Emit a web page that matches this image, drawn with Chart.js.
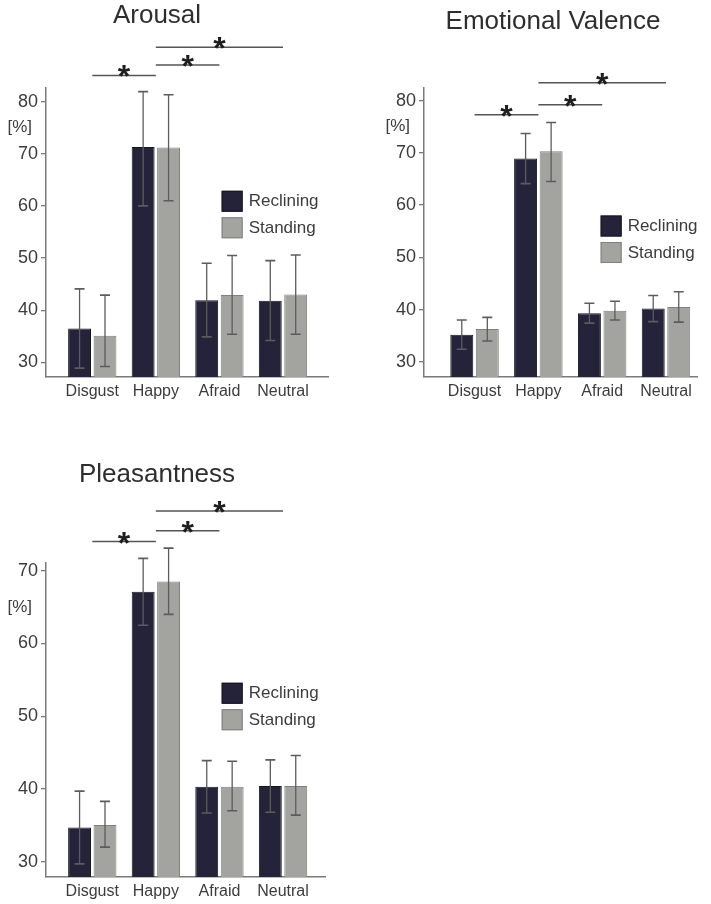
<!DOCTYPE html>
<html>
<head>
<meta charset="utf-8">
<script src="https://cdn.jsdelivr.net/npm/chart.js@4.4.1/dist/chart.umd.min.js"></script>
<style>
    html, body { margin: 0; padding: 0; background: #fff; }
    body { width: 711px; height: 904px; position: relative; overflow: hidden; }
    canvas { position: absolute; }
</style>
</head>
<body>
<canvas id="arousalChart"></canvas>
<canvas id="valenceChart"></canvas>
<canvas id="pleasantChart"></canvas>
<script>
// Shared labels
const categories = ['Disgust', 'Happy', 'Afraid', 'Neutral'];
const seriesNames = ['Reclining', 'Standing'];

// Arousal
const arousalTicks = [30, 40, 50, 60, 70, 80];
const arousalReclining = [36.5, 71.3, 41.9, 41.8];
const arousalReclHigh = [44.1, 81.9, 49.0, 49.5];
const arousalReclLow = [28.9, 60.0, 34.9, 34.2];
const arousalStanding = [35.1, 71.2, 42.9, 43.0];
const arousalStandHigh = [42.9, 81.3, 50.5, 50.6];
const arousalStandLow = [29.2, 61.0, 35.4, 35.4];
const arousalSig = [[0, 1, 85.0], [1, 2, 87.0], [1, 3, 90.4]];

// Emotional Valence
const valenceTicks = [30, 40, 50, 60, 70, 80];
const valenceReclining = [35.2, 68.9, 39.3, 40.2];
const valenceReclHigh = [38.0, 73.7, 41.2, 42.7];
const valenceReclLow = [32.4, 64.1, 37.4, 37.7];
const valenceStanding = [36.3, 70.3, 39.8, 40.5];
const valenceStandHigh = [38.5, 75.8, 41.6, 43.4];
const valenceStandLow = [34.0, 64.5, 38.0, 37.6];
const valenceSig = [[0, 1, 77.3], [1, 2, 79.2], [1, 3, 83.4]];

// Pleasantness
const pleasantTicks = [30, 40, 50, 60, 70];
const pleasantReclining = [34.7, 67.1, 40.3, 40.4];
const pleasantReclHigh = [39.7, 71.7, 43.9, 44.0];
const pleasantReclLow = [29.7, 62.5, 36.7, 36.8];
const pleasantStanding = [35.05, 68.5, 40.3, 40.4];
const pleasantStandHigh = [38.3, 73.1, 43.8, 44.6];
const pleasantStandLow = [32.0, 64.0, 37.0, 36.4];
const pleasantSig = [[0, 1, 74.0], [1, 2, 75.5], [1, 3, 78.2]];

const FONT = "'Liberation Sans', Arial, sans-serif";
const colors = {
    reclining: '#25233a',
    recliningEdge: '#16151f',
    standing: '#a3a4a0',
    standingEdge: '#7f807d',
    axis: '#7a7a7a',
    text: '#3c3c3c',
    whisker: '#5c5c5c'
};

// Draws title, [%] label, error bars, significance bars and the legend
const panelDecor = {
    id: 'panelDecor',
    afterDatasetsDraw(chart, args, opts) {
        const ctx = chart.ctx;
        const xs = chart.scales.x;
        const ys = chart.scales.y;

        // error bars
        ctx.save();
        ctx.strokeStyle = colors.whisker;
        chart.data.datasets.forEach((ds, di) => {
            chart.getDatasetMeta(di).data.forEach((bar, j) => {
                const top = ys.getPixelForValue(ds.errHigh[j]);
                const bot = ys.getPixelForValue(ds.errLow[j]);
                ctx.lineWidth = 1.3;
                ctx.beginPath();
                ctx.moveTo(bar.x, top);
                ctx.lineTo(bar.x, bot);
                ctx.stroke();
                ctx.lineWidth = 1.6;
                ctx.beginPath();
                ctx.moveTo(bar.x - 5, top);
                ctx.lineTo(bar.x + 5, top);
                ctx.moveTo(bar.x - 5, bot);
                ctx.lineTo(bar.x + 5, bot);
                ctx.stroke();
            });
        });
        ctx.restore();

        // significance bars
        ctx.save();
        ctx.strokeStyle = '#555';
        ctx.lineWidth = 1.5;
        ctx.fillStyle = '#1e1e1e';
        ctx.font = 'bold 32px ' + FONT;
        ctx.textAlign = 'center';
        ctx.textBaseline = 'alphabetic';
        opts.sig.forEach(([a, b, v]) => {
            const x1 = xs.getPixelForValue(a + 1);
            const x2 = xs.getPixelForValue(b + 1);
            const y = ys.getPixelForValue(v);
            ctx.beginPath();
            ctx.moveTo(x1, y);
            ctx.lineTo(x2, y);
            ctx.stroke();
            ctx.fillText('*', (x1 + x2) / 2, y + 12);
        });
        ctx.restore();
    },
    afterDraw(chart, args, opts) {
        const ctx = chart.ctx;
        const xs = chart.scales.x;
        const ys = chart.scales.y;
        ctx.save();

        // title
        ctx.fillStyle = '#2e2e2e';
        ctx.font = '26px ' + FONT;
        ctx.textAlign = 'center';
        ctx.textBaseline = 'alphabetic';
        ctx.fillText(opts.title, opts.titleX, opts.titleY);

        // unit label between the two top ticks
        const t = opts.ticks;
        ctx.fillStyle = colors.text;
        ctx.font = '17px ' + FONT;
        ctx.textAlign = 'right';
        ctx.textBaseline = 'middle';
        ctx.fillText('[%]', chart.chartArea.left - 14, ys.getPixelForValue((t[t.length - 1] + t[t.length - 2]) / 2));

        // legend
        const lx = xs.getPixelForValue(opts.legendAt[0]);
        let ly = ys.getPixelForValue(opts.legendAt[1]);
        ctx.textAlign = 'left';
        chart.data.datasets.forEach((ds) => {
            ctx.fillStyle = ds.backgroundColor;
            ctx.fillRect(lx, ly, 21, 21);
            ctx.strokeStyle = ds.borderColor;
            ctx.lineWidth = 1;
            ctx.strokeRect(lx + 0.5, ly + 0.5, 20, 20);
            ctx.fillStyle = colors.text;
            ctx.fillText(ds.label, lx + 27, ly + 11);
            ly += 26.5;
        });
        ctx.restore();
    }
};

function toPoints(values) {
    return values.map((v, i) => ({ x: i + 1, y: v }));
}

function buildPanel(canvasId, panel) {
    const canvas = document.getElementById(canvasId);
    const [bx, by, bw, bh] = panel.box;
    const [al, at, ar, ab] = panel.area;
    canvas.width = bw;
    canvas.height = bh;
    canvas.style.left = bx + 'px';
    canvas.style.top = by + 'px';
    canvas.style.width = bw + 'px';
    canvas.style.height = bh + 'px';

    return new Chart(canvas, {
        type: 'bar',
        data: {
            datasets: [{
                label: seriesNames[0],
                data: toPoints(panel.reclining),
                errHigh: panel.reclHigh,
                errLow: panel.reclLow,
                backgroundColor: colors.reclining,
                borderColor: colors.recliningEdge,
                borderWidth: 1,
                barPercentage: 0.9,
                categoryPercentage: 0.8
            }, {
                label: seriesNames[1],
                data: toPoints(panel.standing),
                errHigh: panel.standHigh,
                errLow: panel.standLow,
                backgroundColor: colors.standing,
                borderColor: colors.standingEdge,
                borderWidth: 1,
                barPercentage: 0.9,
                categoryPercentage: 0.8
            }]
        },
        options: {
            responsive: false,
            animation: false,
            layout: {
                padding: { left: 0, top: at - by, right: bx + bw - ar, bottom: 0 }
            },
            plugins: {
                legend: { display: false },
                tooltip: { enabled: false },
                panelDecor: {
                    title: panel.title,
                    titleX: panel.titleAt[0],
                    titleY: panel.titleAt[1],
                    ticks: panel.ticks,
                    sig: panel.sig,
                    legendAt: panel.legendAt
                }
            },
            scales: {
                x: {
                    type: 'linear',
                    offset: false,
                    min: panel.xRange[0],
                    max: panel.xRange[1],
                    afterBuildTicks: (s) => { s.ticks = categories.map((c, i) => ({ value: i + 1 })); },
                    afterFit: (s) => { s.height = by + bh - ab; },
                    grid: { display: true, drawOnChartArea: false, drawTicks: false },
                    border: { display: true, color: colors.axis, width: 1.5 },
                    ticks: {
                        autoSkip: false,
                        maxRotation: 0,
                        padding: 5,
                        color: colors.text,
                        font: { family: FONT, size: 16 },
                        callback: (v) => categories[v - 1]
                    }
                },
                y: {
                    min: panel.yRange[0],
                    max: panel.yRange[1],
                    afterBuildTicks: (s) => { s.ticks = panel.ticks.map(v => ({ value: v })); },
                    afterFit: (s) => { s.width = al - bx; },
                    grid: { display: true, drawOnChartArea: false, drawTicks: true, tickLength: 5, color: colors.axis, lineWidth: 1.3 },
                    border: { display: true, color: colors.axis, width: 1.5 },
                    ticks: {
                        padding: 3,
                        color: colors.text,
                        font: { family: FONT, size: 18 }
                    }
                }
            }
        },
        plugins: [panelDecor]
    });
}

document.addEventListener('DOMContentLoaded', () => {
    buildPanel('arousalChart', {
        title: 'Arousal', titleAt: [157, 23],
        box: [0, 0, 355, 410], area: [46, 88, 328, 377],
        xRange: [0.272, 4.708], yRange: [27.2, 82.6],
        ticks: arousalTicks, sig: arousalSig, legendAt: [3.035, 62.9],
        reclining: arousalReclining, reclHigh: arousalReclHigh, reclLow: arousalReclLow,
        standing: arousalStanding, standHigh: arousalStandHigh, standLow: arousalStandLow
    });
    buildPanel('valenceChart', {
        title: 'Emotional Valence', titleAt: [193, 29],
        box: [360, 0, 351, 410], area: [424, 88, 697, 377],
        xRange: [0.208, 4.486], yRange: [27.1, 82.4],
        ticks: valenceTicks, sig: valenceSig, legendAt: [2.976, 58.0],
        reclining: valenceReclining, reclHigh: valenceReclHigh, reclLow: valenceReclLow,
        standing: valenceStanding, standHigh: valenceStandHigh, standLow: valenceStandLow
    });
    buildPanel('pleasantChart', {
        title: 'Pleasantness', titleAt: [157, 42],
        box: [0, 440, 360, 464], area: [46, 563, 325, 877],
        xRange: [0.272, 4.66], yRange: [27.9, 71.06],
        ticks: pleasantTicks, sig: pleasantSig, legendAt: [3.035, 54.6],
        reclining: pleasantReclining, reclHigh: pleasantReclHigh, reclLow: pleasantReclLow,
        standing: pleasantStanding, standHigh: pleasantStandHigh, standLow: pleasantStandLow
    });
});
</script>
</body>
</html>
